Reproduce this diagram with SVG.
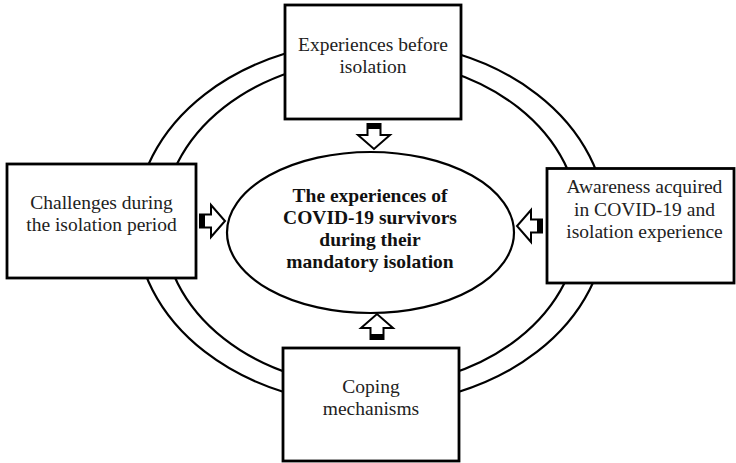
<svg xmlns="http://www.w3.org/2000/svg" width="736" height="463" viewBox="0 0 736 463">
<style>
  .ring { fill: none; stroke: #000; stroke-width: 2.2; }
  .box { fill: #fff; stroke: #000; stroke-width: 2.8; }
  .t { font-family: "Liberation Serif", "Times New Roman", serif; font-size: 19.5px; fill: #222; text-anchor: middle; }
  .b { font-weight: bold; fill: #111; }
  .arr { fill: #fff; stroke: #000; stroke-width: 2; stroke-linejoin: miter; }
</style>
<defs>
  <g id="blockArrow">
    <polygon class="arr" points="0,-6.5 11,-6.5 11,-16 25,0 11,16 11,6.5 0,6.5"/>
    <rect x="0" y="-6.5" width="5" height="13" fill="#000"/>
  </g>
</defs>
<rect width="736" height="463" fill="#fff"/>
<g id="ring">
  <ellipse class="ring" cx="371" cy="223" rx="235" ry="182"/>
  <ellipse class="ring" cx="371" cy="223" rx="208" ry="163.5"/>
</g>
<g id="connectors">
  <use href="#blockArrow" transform="translate(374,124) rotate(90)"/>
  <use href="#blockArrow" transform="translate(200,221)"/>
  <use href="#blockArrow" transform="translate(542,226) rotate(180)"/>
  <use href="#blockArrow" transform="translate(377,339) rotate(-90)"/>
</g>
<g id="center">
  <ellipse cx="370.5" cy="232.5" rx="143.5" ry="80.5" fill="#fff" stroke="#000" stroke-width="2.2"/>
  <text class="t b" x="370" y="202">The experiences of</text>
  <text class="t b" x="370" y="224">COVID-19 survivors</text>
  <text class="t b" x="370" y="246">during their</text>
  <text class="t b" x="370" y="268">mandatory isolation</text>
</g>
<g id="node-top">
  <rect class="box" x="285" y="5" width="176" height="114"/>
  <text class="t" x="373" y="50.5">Experiences before</text>
  <text class="t" x="373" y="73">isolation</text>
</g>
<g id="node-left">
  <rect class="box" x="7" y="164" width="189" height="114"/>
  <text class="t" x="101.5" y="209">Challenges during</text>
  <text class="t" x="101.5" y="231">the isolation period</text>
</g>
<g id="node-right">
  <rect class="box" x="547" y="168.5" width="187" height="114.5"/>
  <text class="t" x="644.5" y="193">Awareness acquired</text>
  <text class="t" x="644.5" y="215.5">in COVID-19 and</text>
  <text class="t" x="644.5" y="237.5">isolation experience</text>
</g>
<g id="node-bottom">
  <rect class="box" x="283" y="348" width="176" height="113"/>
  <text class="t" x="371" y="392.5">Coping</text>
  <text class="t" x="371" y="415">mechanisms</text>
</g>
</svg>
